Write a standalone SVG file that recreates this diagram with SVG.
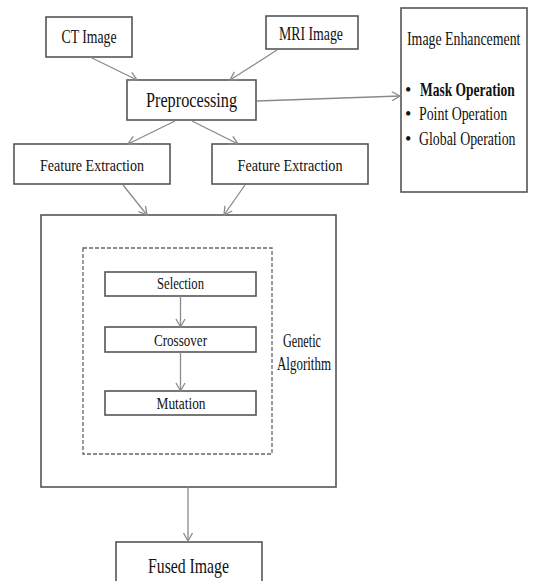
<svg xmlns="http://www.w3.org/2000/svg" width="536" height="581" viewBox="0 0 536 581">
<style>
.box{fill:#fff;stroke:#555;stroke-width:1.6}
.ibox{fill:#fff;stroke:#555;stroke-width:1.6}
.dash{fill:none;stroke:#666;stroke-width:1.3;stroke-dasharray:4 2}
text{font-family:"Liberation Serif","Times New Roman",serif;fill:#111}
.c{text-anchor:middle}
.con line{stroke:#8a8a8a;stroke-width:1.3;marker-end:url(#ah)}
</style>
<defs>
<marker id="ah" markerUnits="userSpaceOnUse" markerWidth="12" markerHeight="12" refX="9" refY="5" orient="auto">
<path d="M1,0.5 L9,5 L1,9.5" fill="none" stroke="#8a8a8a" stroke-width="1.3"/>
</marker>
</defs>
<rect width="536" height="581" fill="#fff"/>
<g id="ct"><rect class="box" x="46" y="17" width="86" height="40"/><text class="c" x="89" y="43" font-size="18" textLength="55" lengthAdjust="spacingAndGlyphs">CT Image</text></g>
<g id="mri"><rect class="box" x="266" y="16" width="92" height="33"/><text class="c" x="311" y="40" font-size="18" textLength="64" lengthAdjust="spacingAndGlyphs">MRI Image</text></g>
<g id="prep"><rect class="box" x="127" y="80" width="129" height="40"/><text class="c" x="191.5" y="107" font-size="21" textLength="91" lengthAdjust="spacingAndGlyphs">Preprocessing</text></g>
<g id="enh"><rect class="box" x="401" y="8" width="126" height="184"/>
<text transform="translate(407,45) scale(0.77,1)" font-size="18">Image Enhancement</text>
<text x="405" y="96" font-size="18">•</text><text transform="translate(420,96) scale(0.75,1)" font-size="18" font-weight="bold">Mask Operation</text>
<text x="405" y="120" font-size="18">•</text><text transform="translate(419,120) scale(0.77,1)" font-size="18">Point Operation</text>
<text x="405" y="145" font-size="18">•</text><text transform="translate(419,145) scale(0.77,1)" font-size="18">Global Operation</text>
</g>
<g id="fe1"><rect class="box" x="14" y="144" width="156" height="40"/><text class="c" x="92" y="171" font-size="17" textLength="104" lengthAdjust="spacingAndGlyphs">Feature Extraction</text></g>
<g id="fe2"><rect class="box" x="212" y="144" width="156" height="40"/><text class="c" x="290" y="171" font-size="17" textLength="105" lengthAdjust="spacingAndGlyphs">Feature Extraction</text></g>
<g id="ga"><rect class="box" x="41" y="215" width="295" height="272"/>
<rect class="dash" x="83" y="248" width="189" height="206"/>
<text class="c" x="302" y="347" font-size="18" textLength="38" lengthAdjust="spacingAndGlyphs">Genetic</text>
<text class="c" x="304" y="370" font-size="18" textLength="54" lengthAdjust="spacingAndGlyphs">Algorithm</text>
</g>
<g id="sel"><rect class="ibox" x="105" y="272" width="151" height="24"/><text class="c" x="180.5" y="289" font-size="16" textLength="47" lengthAdjust="spacingAndGlyphs">Selection</text></g>
<g id="cross"><rect class="ibox" x="105" y="327" width="151" height="25"/><text class="c" x="180.5" y="346" font-size="16" textLength="53" lengthAdjust="spacingAndGlyphs">Crossover</text></g>
<g id="mut"><rect class="ibox" x="105" y="391" width="151" height="24"/><text class="c" x="181" y="409" font-size="16" textLength="49" lengthAdjust="spacingAndGlyphs">Mutation</text></g>
<g id="fused"><rect class="box" x="116" y="542" width="146" height="50"/><text class="c" x="188.5" y="573" font-size="21" textLength="81" lengthAdjust="spacingAndGlyphs">Fused Image</text></g>
<g class="con" id="connectors">
<line x1="90" y1="57" x2="137" y2="80"/>
<line x1="277" y1="50" x2="230" y2="80"/>
<line x1="257" y1="101" x2="400" y2="96"/>
<line x1="175" y1="121" x2="128" y2="144"/>
<line x1="192" y1="121" x2="238" y2="144"/>
<line x1="123" y1="185" x2="147" y2="215"/>
<line x1="245" y1="185" x2="224" y2="215"/>
<line x1="180.5" y1="296" x2="180.5" y2="327"/>
<line x1="180.5" y1="352" x2="180.5" y2="391"/>
<line x1="188" y1="487" x2="188" y2="541"/>
</g>
</svg>
